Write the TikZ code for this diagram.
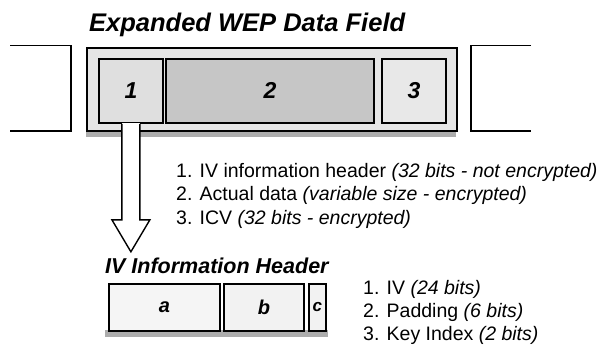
\documentclass[tikz,border=0pt]{standalone}
\usepackage{fontspec}
\setmainfont{Liberation Sans}
\usetikzlibrary{calc}
\begin{document}
\begin{tikzpicture}[x=1pt,y=-1pt,
  field/.style={draw=black,line width=1.8pt,inner sep=0pt,anchor=north west},
  openbox/.style={draw=black,line width=1.6pt},
  shadowband/.style={fill=gray!65,draw=none},
  heading/.style={font=\fontsize{25.5}{30}\selectfont\bfseries\itshape,anchor=base west,inner sep=0pt},
  subheading/.style={font=\fontsize{21.5}{26}\selectfont\bfseries\itshape,anchor=base west,inner sep=0pt},
  listline/.style={font=\fontsize{19.5}{23}\selectfont,anchor=base west,inner sep=0pt},
  digit/.style={font=\fontsize{23}{26}\selectfont\bfseries\itshape},
  letter/.style={font=\fontsize{20}{24}\selectfont\bfseries\itshape},
  hollowarrow/.style={draw=black,line width=1.4pt,fill=white,line join=miter}]
\useasboundingbox (0,0) rectangle (601,345);

% title
\node[heading] (title) at (89,31) {Expanded WEP Data Field};

% neighbouring frames on either side
\draw[openbox] (10,45.5) -- (71,45.5) -- (71,131) -- (10,131);
\draw[openbox] (531,45.5) -- (471,45.5) -- (471,131) -- (531,131);

% expanded data field with its three parts
\fill[shadowband] (86,130) rectangle (456,137);
\node[field,fill=gray!20,minimum width=370pt,minimum height=83pt] (frame) at (86,47) {};
\node[field,fill=gray!25,minimum width=64pt,minimum height=64pt] (f1) at (98,58) {};
\node[field,fill=gray!45,minimum width=208pt,minimum height=64pt] (f2) at (165,58) {};
\node[field,fill=gray!18,minimum width=64pt,minimum height=64pt] (f3) at (381,58) {};
\node[digit] (d1) at (f1.center) {1};
\node[digit] (d2) at (f2.center) {2};
\node[digit] (d3) at (f3.center) {3};

% legend of the data field
\node[listline] (l1) at (176,177) {1. IV information header \textit{(32 bits - not encrypted)}};
\node[listline] (l2) at (176,200.5) {2. Actual data \textit{(variable size - encrypted)}};
\node[listline] (l3) at (176,224) {3. ICV \textit{(32 bits - encrypted)}};

% IV information header breakdown
\node[subheading] (hdr) at (105,273) {IV Information Header};
\fill[shadowband] (105,330) rectangle (328,337);
\node[field,fill=gray!8,minimum width=111pt,minimum height=47pt] (ba) at (108,283) {};
\node[field,fill=gray!10,minimum width=80pt,minimum height=47pt] (bb) at (223,283) {};
\node[field,fill=gray!10,minimum width=17pt,minimum height=47pt] (bc) at (308,283) {};
\node[letter] (la) at (ba.center) {a};
\node[letter] (lb) at (bb.center) {b};
\node[letter,font=\fontsize{17}{20}\selectfont\bfseries\itshape] (lc) at (bc.center) {c};

\node[listline] (m1) at (363,294) {1. IV \textit{(24 bits)}};
\node[listline] (m2) at (363,317) {2. Padding \textit{(6 bits)}};
\node[listline] (m3) at (363,340) {3. Key Index \textit{(2 bits)}};

% hollow arrow from part 1 down to the header breakdown
\coordinate (tip) at ($(f1.south)+(0,128)$);
\fill[white] ($(f1.south)+(-9,-0.9)$) rectangle ($(f1.south)+(9,96)$);
\draw[hollowarrow] ($(f1.south)+(-9,0)$) -- ($(f1.south)+(-9,96)$) -- ($(f1.south)+(-19,96)$)
  -- (tip) -- ($(f1.south)+(19,96)$) -- ($(f1.south)+(9,96)$) -- ($(f1.south)+(9,0)$);
\end{tikzpicture}
\end{document}
